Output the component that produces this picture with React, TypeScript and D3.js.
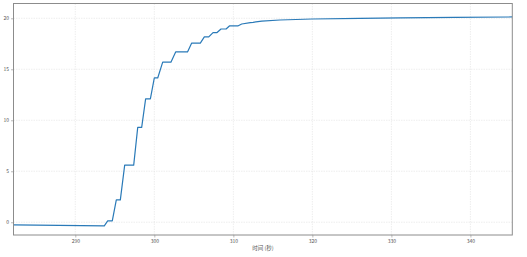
import React, { useEffect, useRef } from "react";
import * as d3 from "d3";

const timeValues = [282.18, 293.67, 294.1, 294.68, 295.19, 295.7, 296.25, 297.39, 297.9, 298.4, 298.9, 299.5, 300.0, 300.43, 301.06, 302.1, 302.7, 304.2, 304.73, 305.82, 306.33, 306.89, 307.43, 307.94, 308.44, 309.08, 309.5, 310.56, 311.06, 312.15, 312.5, 313.6, 315.9, 319.96, 326.04, 331.1, 338.0, 345.3];
const seriesValues = [-0.25, -0.35, 0.13, 0.13, 2.2, 2.2, 5.6, 5.6, 9.3, 9.3, 12.1, 12.1, 14.15, 14.15, 15.7, 15.7, 16.7, 16.7, 17.57, 17.57, 18.17, 18.17, 18.6, 18.6, 18.95, 18.95, 19.25, 19.25, 19.44, 19.57, 19.6, 19.73, 19.83, 19.93, 20.0, 20.05, 20.08, 20.13];
const xTicks = [290, 300, 310, 320, 330, 340];
const yTicks = [0, 5, 10, 15, 20];
const xLabel = "时间 (秒)";

export default function App() {
  const ref = useRef<SVGSVGElement>(null);
  useEffect(() => {
    const svg = d3.select(ref.current);
    svg.selectAll("*").remove();
    const left = 13.5, right = 512.3, top = 3.5, bottom = 235;
    const x = d3.scaleLinear().domain([282.18, 345.3]).range([left, right]);
    const y = d3.scaleLinear().domain([-1.25, 21.45]).range([bottom, top]);
    const font = "'Noto Sans CJK SC', 'DejaVu Sans', sans-serif";

    // grid
    const g = svg.append("g");
    g.selectAll("line.vg").data(xTicks).enter().append("line")
      .attr("x1", d => x(d)).attr("x2", d => x(d)).attr("y1", top).attr("y2", bottom)
      .attr("stroke", "#e3e3e3").attr("stroke-width", 0.6).attr("stroke-dasharray", "1.5,1");
    g.selectAll("line.hg").data(yTicks).enter().append("line")
      .attr("y1", d => y(d)).attr("y2", d => y(d)).attr("x1", left).attr("x2", right)
      .attr("stroke", "#e3e3e3").attr("stroke-width", 0.6).attr("stroke-dasharray", "1.5,1");

    // line
    const data = timeValues.map((t, i) => [t, seriesValues[i]] as [number, number]);
    svg.append("path").datum(data)
      .attr("d", d3.line<[number, number]>().x(d => x(d[0])).y(d => y(d[1])))
      .attr("fill", "none").attr("stroke", "#2a7ab8").attr("stroke-width", 1.2)
      .attr("stroke-linejoin", "round");

    // axes
    const xAxis = svg.append("g").attr("transform", `translate(0,${bottom})`)
      .call(d3.axisBottom(x).tickValues(xTicks).tickSize(2.5).tickPadding(2).tickFormat(d3.format("d")));
    const yAxis = svg.append("g").attr("transform", `translate(${left},0)`)
      .call(d3.axisLeft(y).tickValues(yTicks).tickSize(2.5).tickPadding(2).tickFormat(d3.format("d")));
    [xAxis, yAxis].forEach(a => {
      a.select(".domain").remove();
      a.selectAll("line").attr("stroke", "#777").attr("stroke-width", 0.5);
      a.selectAll("text").attr("font-size", 5).attr("font-family", font).attr("fill", "#555");
    });

    // frame
    svg.append("rect").attr("x", left).attr("y", top).attr("width", right - left).attr("height", bottom - top)
      .attr("fill", "none").attr("stroke", "#8c8c8c").attr("stroke-width", 1);

    svg.append("text").attr("x", (left + right) / 2).attr("y", 250).attr("text-anchor", "middle")
      .attr("font-size", 5.5).attr("font-family", font).attr("fill", "#555").text(xLabel);
  }, []);
  return (
    <svg ref={ref} width={527} height={257} style={{ position: "absolute", left: 0, top: 0, background: "#fff" }} />
  );
}
